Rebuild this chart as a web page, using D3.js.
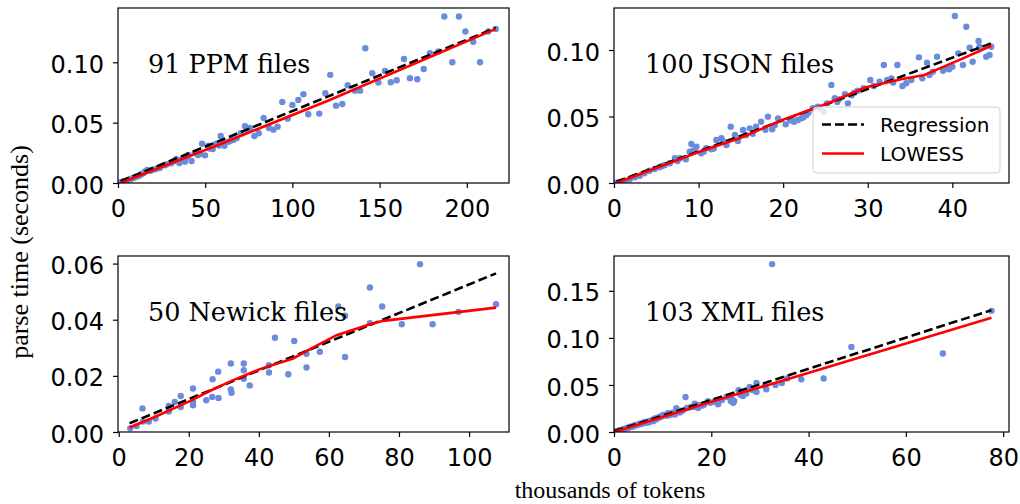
<!DOCTYPE html>
<html>
<head>
<meta charset="utf-8">
<script src="https://cdn.jsdelivr.net/npm/d3@7"></script>
<style>
  body { margin: 0; background: #fff; }
  svg { display: block; }
</style>
</head>
<body>
<div id="chart"></div>
<script>
// points: [thousands of tokens, seconds]
let ppmPoints = [
  [187.1,0.138],[195.5,0.138],[199.2,0.1255],[203.7,0.117],[207.6,0.100],[212.3,0.1255],[216.6,0.1277],
  [191.7,0.100],[183.7,0.109],[178.9,0.1075],[175.3,0.0945],[171.6,0.086],[167.4,0.0868],[164,0.1028],
  [159.8,0.0851],[156.4,0.0835],[153.1,0.0929],[149.3,0.0832],[145.8,0.091],[141.8,0.1117],[138.8,0.0765],
  [135.9,0.0765],[131.7,0.081],[128.6,0.0655],[125,0.0641],[121.7,0.0896],[118.9,0.0744],[115.4,0.0575],
  [109.1,0.057],[106.3,0.0735],[103.4,0.0688],[100,0.0647],[97.3,0.0533],[94.2,0.0672],[91.5,0.0467],
  [89.1,0.0442],[86.6,0.0456],[83.5,0.0539],[80.7,0.0412],[78.2,0.039],[75.7,0.0456],[72.8,0.047],
  [70.5,0.0412],[66.1,0.0357],[63.3,0.0342],[61,0.0309],[58.9,0.039],[56.2,0.0323],[54.3,0.0282],
  [51.8,0.0309],[49.9,0.0229],[48.2,0.0326],[45.9,0.0232],[42.2,0.0182],[40.3,0.0232],[38.4,0.0177],
  [35.2,0.0166],[33.3,0.0199],[30.4,0.0163],[26.9,0.0147],[24.1,0.0127],[21.2,0.0114],[18.7,0.0102],
  [16.8,0.0108],[14.5,0.008],[12.2,0.0061],[9.7,0.0047],[7.3,0.0033],[5,0.0022],[3.1,0.0014],[1.5,0.0006],
  [4.2,0.0017],[6.2,0.0028],[8.5,0.004],[11,0.0055],[13.3,0.0072],[15.5,0.0095],[19.8,0.011],[23,0.0122],
  [28,0.0155],[32,0.018],[36.5,0.0195],[39,0.021],[44,0.025],[47,0.024],[52.5,0.0285],[58,0.031],
  [60,0.0335],[64.5,0.035],[68,0.037],[74,0.044]
];
let ppmRegression = [[1.5,0.0015],[216.6,0.1285]];
let ppmLowess = [[1.5,0.0],[60,0.033],[120,0.068],[216.6,0.1277]];

let jsonPoints = [
  [40.3,0.1256],[41.65,0.1175],[43.1,0.1068],[42.05,0.1017],[43.2,0.1025],[44.6,0.1025],[44.0,0.095],
  [44.4,0.0962],[42.4,0.0912],[41.25,0.0887],[40.7,0.0975],[40,0.0874],[39.3,0.0862],[38.9,0.0844],
  [38.2,0.095],[37.7,0.0837],[37.3,0.0812],[37,0.0905],[36.05,0.0945],[36.45,0.0787],[35.15,0.0774],
  [34.55,0.075],[34.1,0.0729],[33.5,0.0887],[32.8,0.0787],[31.9,0.0887],[32.3,0.0774],[31.4,0.0762],
  [30.3,0.0774],[29.5,0.0712],[28.8,0.0694],[28.4,0.0679],[27.65,0.0599],[27.3,0.0667],[26.6,0.0629],
  [26.1,0.0637],[25.7,0.0737],[25.2,0.0599],[24.8,0.0536],[24.1,0.0574],[23.5,0.0562],[22.75,0.0511],
  [22.15,0.0486],[21.75,0.0474],[21.3,0.0461],[20.8,0.0474],[20.3,0.0441],[19.4,0.0486],[18.7,0.0404],
  [18.2,0.0499],[17.4,0.0461],[16.8,0.0423],[16.05,0.0411],[15.25,0.0398],[14.65,0.0316],[14.3,0.0361],
  [13.8,0.0423],[13.3,0.0286],[12.7,0.0336],[12.1,0.0323],[11.5,0.0253],[10.9,0.0261],[10.3,0.0223],
  [9.75,0.0273],[9.15,0.0293],[8.95,0.0235],[8.5,0.0178],[7.8,0.0186],[7.2,0.0186],[6.6,0.0148],
  [6.0,0.0135],[5.4,0.0118],[4.8,0.0105],[4.2,0.0092],[3.6,0.0073],[3.05,0.0055],[2.45,0.0043],
  [1.85,0.0028],[1.25,0.0015],[0.7,0.0008],[0.3,0.0002],
  [5.7,0.0128],[7.5,0.0165],[9.4,0.0245],[10.6,0.0235],[11.8,0.026],[13,0.031],[15.6,0.036],
  [16.4,0.037],[17.9,0.04],[19,0.0435],[21,0.047],[22.4,0.0495],[23,0.053],[24.4,0.056],[26.4,0.061],
  [28.1,0.066],[30.7,0.073],[33,0.0755],[39.6,0.0855]
];
let jsonRegression = [[0.3,0.001],[44.6,0.105]];
let jsonLowess = [[0.3,0.0],[10.1,0.0235],[15,0.034],[19.9,0.0474],[25.3,0.06],[29.8,0.072],
  [34.1,0.0782],[36.7,0.0812],[38.5,0.0862],[41,0.093],[44.6,0.1032]];

let newickPoints = [
  [86,0.0598],[71.7,0.0515],[75.2,0.0447],[62.7,0.0447],[64.6,0.0414],[71.7,0.0388],[80.8,0.0384],
  [89.6,0.0384],[97,0.0428],[107.7,0.0455],[64.6,0.0267],[57.4,0.0286],[53.6,0.0279],[53.6,0.023],
  [50.1,0.0324],[44.6,0.0336],[48.4,0.0206],[42.9,0.0238],[42.9,0.0212],[37.4,0.0166],[35.7,0.0244],
  [35.7,0.022],[35.7,0.019],[32,0.0244],[32,0.0152],[32.2,0.014],[28.4,0.0215],[26.8,0.0188],
  [26.7,0.0125],[28.5,0.0121],[25,0.0113],[21.2,0.0155],[21.2,0.0108],[21.2,0.0095],[17.7,0.0128],
  [17.7,0.0089],[16,0.0107],[14.3,0.0093],[14.3,0.0073],[10.5,0.0048],[8.6,0.0037],[6.9,0.0037],
  [6.8,0.0084],[5.1,0.0021],[3.3,0.0013]
];
let newickRegression = [[3.1,0.0031],[107.7,0.0565]];
let newickLowess = [[3.1,0.0016],[9.8,0.0051],[20.3,0.011],[26,0.0146],[32.2,0.0182],[40.3,0.0224],
  [49.8,0.0262],[54.6,0.0295],[62.2,0.0345],[71.7,0.0384],[75.5,0.0396],[107.7,0.0443]];

let xmlPoints = [
  [32.5,0.1784],[77.6,0.1287],[48.8,0.0904],[67.6,0.0834],[43.1,0.0568],[38.5,0.056],[35.6,0.0568],
  [29.3,0.0521],[29.3,0.0426],[31.3,0.0454],[27.9,0.0479],[26.5,0.0383],[25.6,0.0444],[24.7,0.033],
  [24,0.033],[23.1,0.0372],[21.4,0.0295],[19.3,0.0327],[17.6,0.0284],[17.3,0.0255],[16.6,0.0302],
  [14.7,0.0372],[15,0.0255],[13.5,0.0206],[12.8,0.0252],[12.5,0.0185],[11.1,0.0199],[10.1,0.0181],
  [9.4,0.016],[8.4,0.0143],[7.3,0.0117],[6.3,0.0106],[5.3,0.0089],[4.3,0.0071],[3.2,0.0053],
  [2.2,0.0036],[1.2,0.0018],
  [0.5,0.0008],[0.8,0.0012],[1.5,0.0022],[1.8,0.0025],[2.5,0.0038],[2.8,0.0042],[3.5,0.0055],
  [3.8,0.0058],[4.0,0.0062],[4.6,0.0072],[4.9,0.0078],[5.6,0.0085],[5.9,0.0092],[6.6,0.0098],
  [6.9,0.011],[7.1,0.0102],[7.6,0.0112],[7.9,0.0125],[8.1,0.0118],[8.7,0.0135],[8.9,0.0148],
  [9.1,0.015],[9.7,0.0165],[9.9,0.017],[10.4,0.0178],[10.7,0.0185],[11.4,0.019],[11.8,0.0195],
  [12.2,0.02],[13.1,0.0215],[13.8,0.022],[14.2,0.023],[15.5,0.026],[16,0.027],[16.3,0.0265],
  [18.1,0.028],[18.5,0.029],[19.8,0.031],[20.5,0.032],[22.2,0.034],[24.3,0.0345],[24.5,0.031],
  [26,0.0395],[27.2,0.041],[28.5,0.0445],[31,0.049],[33.2,0.05],[34.5,0.052],[2.0,0.003],[3.0,0.0045],
  [1.0,0.0014],[0.3,0.0005],[5.1,0.0082],[6.0,0.0095],[10.9,0.0172],[12.0,0.0205],[9.3,0.0158],
  [8.0,0.013],[7.3,0.0115],[13.4,0.0225],[17.0,0.0285],[11.6,0.0182]
];
let xmlRegression = [[0.1,0.001],[77.6,0.1295]];
let xmlLowess = [[0.1,0.0],[10,0.016],[20,0.032],[38.2,0.06],[77.6,0.1213]];

let titles = ["91 PPM files", "100 JSON files", "50 Newick files", "103 XML files"];
let xTicks = [[0,50,100,150,200],[0,10,20,30,40],[0,20,40,60,80,100],[0,20,40,60,80]];
let yTicks = [[0,0.05,0.10],[0,0.05,0.10],[0,0.02,0.04,0.06],[0,0.05,0.10,0.15]];
let xDomains = [[0,224.2],[0,46.7],[-0.2,111.4],[0,81.2]];
let yDomains = [[0,0.145],[0,0.1316],[0,0.0627],[0,0.187]];
let legendLabels = ["Regression", "LOWESS"];

let width = 1020, height = 504;
let sans = "'DejaVu Sans', sans-serif";
let serifTitle = "'DejaVu Serif', serif";
let serifLabel = "'Liberation Serif', serif";

// panel boxes in pixels: left, top, right, bottom
let boxes = [[118,8,509,183],[614,8,1009,183],[118,256,509,432],[614,256,1009,432]];
let allPoints = [ppmPoints, jsonPoints, newickPoints, xmlPoints];
let allReg = [ppmRegression, jsonRegression, newickRegression, xmlRegression];
let allLow = [ppmLowess, jsonLowess, newickLowess, xmlLowess];

let svg = d3.select("#chart").append("svg")
    .attr("width", width)
    .attr("height", height);

for (let i = 0; i < 4; i++) {
    let b = boxes[i];
    let x = d3.scaleLinear().domain(xDomains[i]).range([b[0], b[2]]);
    let y = d3.scaleLinear().domain(yDomains[i]).range([b[3], b[1]]);
    let g = svg.append("g");

    g.append("clipPath").attr("id", "clip" + i)
        .append("rect")
        .attr("x", b[0]).attr("y", b[1])
        .attr("width", b[2] - b[0]).attr("height", b[3] - b[1]);

    let plot = g.append("g").attr("clip-path", "url(#clip" + i + ")");

    plot.selectAll("circle").data(allPoints[i]).enter()
        .append("circle")
        .attr("cx", d => x(d[0]))
        .attr("cy", d => y(d[1]))
        .attr("r", 3.2)
        .attr("fill", "#6a8cdc");

    let line = d3.line().x(d => x(d[0])).y(d => y(d[1]));
    plot.append("path").datum(allReg[i])
        .attr("d", line)
        .attr("fill", "none")
        .attr("stroke", "#000")
        .attr("stroke-width", 2.6)
        .attr("stroke-dasharray", "9,4");
    plot.append("path").datum(allLow[i])
        .attr("d", line)
        .attr("fill", "none")
        .attr("stroke", "#ff0000")
        .attr("stroke-width", 2.6);

    // frame
    g.append("rect")
        .attr("x", b[0]).attr("y", b[1])
        .attr("width", b[2] - b[0]).attr("height", b[3] - b[1])
        .attr("fill", "none")
        .attr("stroke", "#000")
        .attr("stroke-width", 1.2);

    let xAxis = g.append("g")
        .attr("transform", "translate(0," + b[3] + ")")
        .call(d3.axisBottom(x).tickValues(xTicks[i]).tickFormat(d3.format("d"))
            .tickSize(5).tickSizeOuter(0).tickPadding(12));
    let yAxis = g.append("g")
        .attr("transform", "translate(" + b[0] + ",0)")
        .call(d3.axisLeft(y).tickValues(yTicks[i]).tickFormat(d3.format(".2f"))
            .tickSize(5).tickSizeOuter(0).tickPadding(9));
    yAxis.selectAll("text").attr("dy", "0.42em");
    [xAxis, yAxis].forEach(a => {
        a.select(".domain").remove();
        a.selectAll("line").attr("stroke", "#000").attr("stroke-width", 1.2);
        a.selectAll("text").attr("fill", "#000")
            .style("font-family", sans).style("font-size", "24px");
    });

    g.append("text")
        .attr("x", i % 2 == 0 ? b[0] + 30 : b[0] + 31)
        .attr("y", b[1] + 65)
        .style("font-family", serifTitle)
        .style("font-size", "25.5px")
        .text(titles[i]);
}

// legend in the JSON panel
let legend = svg.append("g");
legend.append("rect")
    .attr("x", 813).attr("y", 107)
    .attr("width", 187).attr("height", 66)
    .attr("rx", 4)
    .attr("fill", "#fff").attr("fill-opacity", 0.8)
    .attr("stroke", "#d0d0d0");
legendLabels.forEach((t, k) => {
    let ly = 124.5 + k * 29;
    legend.append("line")
        .attr("x1", 822).attr("x2", 864)
        .attr("y1", ly).attr("y2", ly)
        .attr("stroke", k == 0 ? "#000" : "#ff0000")
        .attr("stroke-width", 2.6)
        .attr("stroke-dasharray", k == 0 ? "9,4" : null);
    legend.append("text")
        .attr("x", 880).attr("y", ly + 7)
        .style("font-family", sans)
        .style("font-size", "20px")
        .text(t);
});

// shared axis labels
svg.append("text")
    .attr("transform", "translate(28,252) rotate(-90)")
    .style("text-anchor", "middle")
    .style("font-family", serifLabel)
    .style("font-size", "26px")
    .text("parse time (seconds)");

svg.append("text")
    .attr("x", 610).attr("y", 498)
    .style("text-anchor", "middle")
    .style("font-family", serifLabel)
    .style("font-size", "24px")
    .text("thousands of tokens");
</script>
</body>
</html>
